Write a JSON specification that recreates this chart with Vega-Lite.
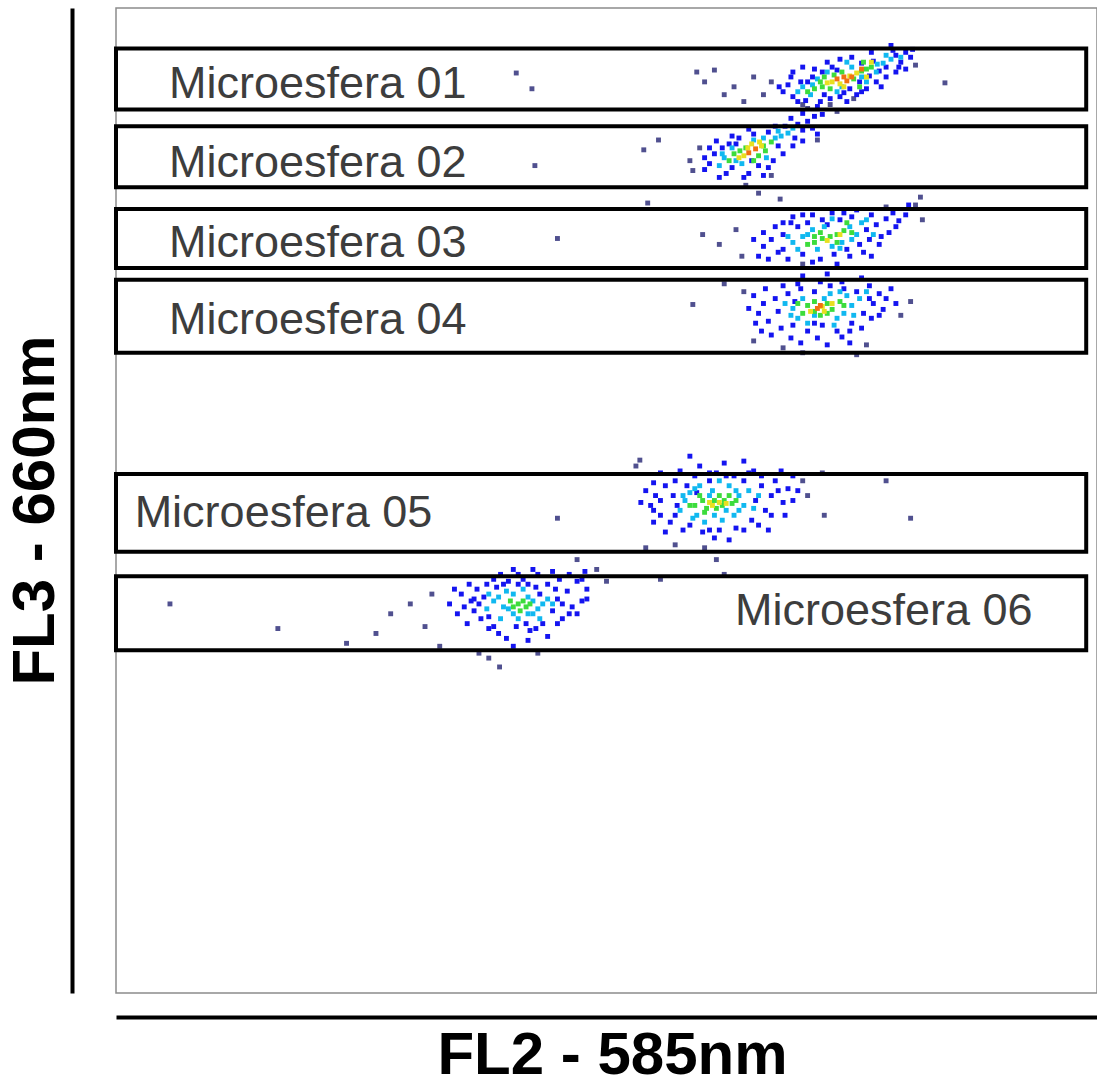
{
"$schema": "https://vega.github.io/schema/vega-lite/v6.json",
"width": 981, "height": 985,
"autosize": "none",
"padding": {"left": 116, "top": 8, "right": 0, "bottom": 87},
"background": "white",
"config": {"view": {"stroke": "#8c8c8c", "strokeWidth": 1.5}},
"datasets": {
"pts": [
{"fl2":408,"fl3":934,"den":0},{"fl2":424,"fl3":918,"den":0},{"fl2":592,"fl3":935,"den":0},{"fl2":600,"fl3":925,"den":0},{"fl2":610,"fl3":937,"den":0},{"fl2":630,"fl3":920,"den":0},{"fl2":650,"fl3":930,"den":0},{"fl2":668,"fl3":925,"den":0},{"fl2":660,"fl3":912,"den":0},{"fl2":640,"fl3":905,"den":0},{"fl2":845,"fl3":924,"den":0},{"fl2":815,"fl3":942,"den":0},{"fl2":752,"fl3":908,"den":0},{"fl2":700,"fl3":902,"den":0},{"fl2":620,"fl3":912,"den":0},
{"fl2":680,"fl3":915,"den":1},{"fl2":685,"fl3":922,"den":1},{"fl2":690,"fl3":910,"den":1},{"fl2":698,"fl3":925,"den":1},{"fl2":703,"fl3":906,"den":1},{"fl2":710,"fl3":930,"den":1},{"fl2":722,"fl3":912,"den":1},{"fl2":735,"fl3":937,"den":1},{"fl2":748,"fl3":918,"den":1},{"fl2":758,"fl3":925,"den":1},{"fl2":768,"fl3":931,"den":1},{"fl2":772,"fl3":946,"den":1},{"fl2":785,"fl3":940,"den":1},{"fl2":795,"fl3":952,"den":1},{"fl2":800,"fl3":945,"den":1},{"fl2":805,"fl3":955,"den":1},{"fl2":810,"fl3":950,"den":1},{"fl2":688,"fl3":930,"den":1},{"fl2":676,"fl3":920,"den":1},{"fl2":760,"fl3":944,"den":1},{"fl2":718,"fl3":905,"den":1},{"fl2":730,"fl3":940,"den":1},{"fl2":742,"fl3":914,"den":1},{"fl2":778,"fl3":936,"den":1},{"fl2":792,"fl3":957,"den":1},{"fl2":798,"fl3":940,"den":1},
{"fl2":690,"fl3":935,"den":1},{"fl2":700,"fl3":940,"den":1},{"fl2":712,"fl3":938,"den":1},{"fl2":725,"fl3":945,"den":1},{"fl2":738,"fl3":948,"den":1},{"fl2":745,"fl3":905,"den":1},{"fl2":755,"fl3":912,"den":1},{"fl2":765,"fl3":918,"den":1},{"fl2":775,"fl3":925,"den":1},{"fl2":785,"fl3":930,"den":1},{"fl2":795,"fl3":935,"den":1},{"fl2":805,"fl3":938,"den":1},{"fl2":812,"fl3":958,"den":1},{"fl2":790,"fl3":962,"den":1},{"fl2":770,"fl3":955,"den":1},{"fl2":750,"fl3":950,"den":1},{"fl2":715,"fl3":900,"den":1},{"fl2":728,"fl3":908,"den":1},{"fl2":738,"fl3":910,"den":1},{"fl2":760,"fl3":915,"den":1},{"fl2":780,"fl3":920,"den":1},{"fl2":695,"fl3":905,"den":1},{"fl2":705,"fl3":925,"den":1},{"fl2":720,"fl3":935,"den":1},
{"fl2":776,"fl3":943,"den":2},{"fl2":700,"fl3":920,"den":2},{"fl2":708,"fl3":912,"den":2},{"fl2":715,"fl3":928,"den":2},{"fl2":740,"fl3":920,"den":2},{"fl2":760,"fl3":930,"den":2},{"fl2":782,"fl3":944,"den":2},{"fl2":790,"fl3":948,"den":2},{"fl2":695,"fl3":915,"den":2},{"fl2":750,"fl3":940,"den":2},
{"fl2":725,"fl3":935,"den":2},{"fl2":735,"fl3":915,"den":2},{"fl2":765,"fl3":925,"den":2},{"fl2":775,"fl3":935,"den":2},{"fl2":745,"fl3":945,"den":2},{"fl2":710,"fl3":922,"den":2},{"fl2":785,"fl3":952,"den":2},{"fl2":800,"fl3":950,"den":2},
{"fl2":720,"fl3":920,"den":3},{"fl2":760,"fl3":936,"den":3},{"fl2":712,"fl3":918,"den":3},{"fl2":718,"fl3":925,"den":3},{"fl2":732,"fl3":932,"den":3},{"fl2":752,"fl3":928,"den":3},{"fl2":765,"fl3":938,"den":3},{"fl2":770,"fl3":940,"den":3},{"fl2":705,"fl3":915,"den":3},{"fl2":728,"fl3":918,"den":3},
{"fl2":740,"fl3":935,"den":3},{"fl2":758,"fl3":920,"den":3},{"fl2":722,"fl3":930,"den":3},{"fl2":762,"fl3":945,"den":3},
{"fl2":730,"fl3":925,"den":4},{"fl2":748,"fl3":931,"den":4},{"fl2":738,"fl3":923,"den":4},{"fl2":725,"fl3":924,"den":4},{"fl2":755,"fl3":934,"den":4},{"fl2":770,"fl3":945,"den":4},{"fl2":765,"fl3":930,"den":4},{"fl2":742,"fl3":920,"den":4},
{"fl2":735,"fl3":928,"den":5},{"fl2":742,"fl3":930,"den":5},{"fl2":745,"fl3":926,"den":5},{"fl2":750,"fl3":930,"den":5},{"fl2":760,"fl3":938,"den":5},

{"fl2":427,"fl3":840,"den":0},{"fl2":538,"fl3":856,"den":0},{"fl2":553,"fl3":866,"den":0},{"fl2":585,"fl3":845,"den":0},{"fl2":595,"fl3":858,"den":0},{"fl2":642,"fl3":820,"den":0},{"fl2":655,"fl3":812,"den":0},{"fl2":668,"fl3":830,"den":0},{"fl2":715,"fl3":866,"den":0},{"fl2":735,"fl3":895,"den":0},{"fl2":705,"fl3":898,"den":0},{"fl2":728,"fl3":902,"den":0},{"fl2":588,"fl3":835,"den":0},{"fl2":542,"fl3":802,"den":0},{"fl2":677,"fl3":806,"den":0},
{"fl2":605,"fl3":842,"den":1},{"fl2":610,"fl3":852,"den":1},{"fl2":600,"fl3":836,"den":1},{"fl2":618,"fl3":858,"den":1},{"fl2":628,"fl3":838,"den":1},{"fl2":648,"fl3":845,"den":1},{"fl2":665,"fl3":874,"den":1},{"fl2":675,"fl3":860,"den":1},{"fl2":695,"fl3":882,"den":1},{"fl2":700,"fl3":876,"den":1},{"fl2":705,"fl3":885,"den":1},{"fl2":712,"fl3":890,"den":1},{"fl2":682,"fl3":880,"den":1},{"fl2":692,"fl3":868,"den":1},{"fl2":632,"fl3":862,"den":1},{"fl2":622,"fl3":832,"den":1},{"fl2":645,"fl3":832,"den":1},{"fl2":655,"fl3":840,"den":1},{"fl2":710,"fl3":878,"den":1},{"fl2":720,"fl3":892,"den":1},{"fl2":600,"fl3":848,"den":1},{"fl2":640,"fl3":828,"den":1},
{"fl2":615,"fl3":828,"den":1},{"fl2":625,"fl3":862,"den":1},{"fl2":635,"fl3":868,"den":1},{"fl2":650,"fl3":872,"den":1},{"fl2":660,"fl3":830,"den":1},{"fl2":670,"fl3":845,"den":1},{"fl2":680,"fl3":852,"den":1},{"fl2":690,"fl3":860,"den":1},{"fl2":700,"fl3":865,"den":1},{"fl2":715,"fl3":872,"den":1},{"fl2":612,"fl3":865,"den":1},{"fl2":628,"fl3":870,"den":1},{"fl2":645,"fl3":877,"den":1},{"fl2":672,"fl3":880,"den":1},{"fl2":688,"fl3":888,"den":1},{"fl2":700,"fl3":893,"den":1},{"fl2":605,"fl3":858,"den":1},{"fl2":665,"fl3":838,"den":1},
{"fl2":620,"fl3":848,"den":2},{"fl2":615,"fl3":840,"den":2},{"fl2":638,"fl3":842,"den":2},{"fl2":678,"fl3":870,"den":2},{"fl2":685,"fl3":873,"den":2},{"fl2":660,"fl3":868,"den":2},{"fl2":690,"fl3":878,"den":2},{"fl2":672,"fl3":868,"den":2},
{"fl2":632,"fl3":845,"den":2},{"fl2":650,"fl3":866,"den":2},{"fl2":663,"fl3":848,"den":2},{"fl2":675,"fl3":875,"den":2},{"fl2":628,"fl3":858,"den":2},{"fl2":618,"fl3":852,"den":2},
{"fl2":630,"fl3":852,"den":3},{"fl2":625,"fl3":845,"den":3},{"fl2":668,"fl3":864,"den":3},{"fl2":655,"fl3":850,"den":3},{"fl2":642,"fl3":858,"den":3},{"fl2":662,"fl3":855,"den":3},{"fl2":636,"fl3":855,"den":3},{"fl2":660,"fl3":860,"den":3},{"fl2":650,"fl3":845,"den":3},
{"fl2":640,"fl3":850,"den":4},{"fl2":658,"fl3":860,"den":4},{"fl2":635,"fl3":848,"den":4},{"fl2":648,"fl3":862,"den":4},{"fl2":644,"fl3":858,"den":4},{"fl2":656,"fl3":864,"den":4},
{"fl2":645,"fl3":853,"den":5},{"fl2":652,"fl3":857,"den":5},

{"fl2":450,"fl3":766,"den":0},{"fl2":598,"fl3":770,"den":0},{"fl2":615,"fl3":760,"den":0},{"fl2":632,"fl3":775,"den":0},{"fl2":638,"fl3":748,"den":0},{"fl2":815,"fl3":800,"den":0},{"fl2":820,"fl3":808,"den":0},{"fl2":822,"fl3":785,"den":0},{"fl2":785,"fl3":798,"den":0},{"fl2":700,"fl3":740,"den":0},
{"fl2":660,"fl3":758,"den":1},{"fl2":668,"fl3":765,"den":1},{"fl2":675,"fl3":752,"den":1},{"fl2":680,"fl3":770,"den":1},{"fl2":685,"fl3":745,"den":1},{"fl2":695,"fl3":778,"den":1},{"fl2":700,"fl3":750,"den":1},{"fl2":705,"fl3":782,"den":1},{"fl2":718,"fl3":745,"den":1},{"fl2":725,"fl3":780,"den":1},{"fl2":732,"fl3":750,"den":1},{"fl2":738,"fl3":785,"den":1},{"fl2":745,"fl3":755,"den":1},{"fl2":750,"fl3":788,"den":1},{"fl2":758,"fl3":760,"den":1},{"fl2":765,"fl3":775,"den":1},{"fl2":770,"fl3":790,"den":1},{"fl2":775,"fl3":780,"den":1},{"fl2":780,"fl3":768,"den":1},{"fl2":785,"fl3":786,"den":1},{"fl2":792,"fl3":792,"den":1},{"fl2":672,"fl3":778,"den":1},{"fl2":688,"fl3":782,"den":1},{"fl2":655,"fl3":748,"den":1},{"fl2":710,"fl3":742,"den":1},{"fl2":742,"fl3":792,"den":1},{"fl2":798,"fl3":784,"den":1},{"fl2":762,"fl3":752,"den":1},{"fl2":650,"fl3":765,"den":1},{"fl2":700,"fl3":728,"den":1},{"fl2":725,"fl3":730,"den":1},{"fl2":760,"fl3":726,"den":1},
{"fl2":690,"fl3":788,"den":1},{"fl2":710,"fl3":790,"den":1},{"fl2":730,"fl3":792,"den":1},{"fl2":755,"fl3":795,"den":1},{"fl2":768,"fl3":765,"den":1},{"fl2":778,"fl3":760,"den":1},{"fl2":788,"fl3":772,"den":1},{"fl2":795,"fl3":778,"den":1},{"fl2":805,"fl3":790,"den":1},{"fl2":665,"fl3":745,"den":1},{"fl2":680,"fl3":755,"den":1},{"fl2":720,"fl3":785,"den":1},{"fl2":735,"fl3":740,"den":1},{"fl2":748,"fl3":748,"den":1},{"fl2":770,"fl3":748,"den":1},{"fl2":660,"fl3":772,"den":1},{"fl2":700,"fl3":790,"den":1},{"fl2":808,"fl3":800,"den":1},{"fl2":680,"fl3":782,"den":1},
{"fl2":700,"fl3":768,"den":2},{"fl2":690,"fl3":762,"den":2},{"fl2":710,"fl3":775,"den":2},{"fl2":748,"fl3":778,"den":2},{"fl2":755,"fl3":770,"den":2},{"fl2":730,"fl3":758,"den":2},{"fl2":715,"fl3":755,"den":2},{"fl2":760,"fl3":782,"den":2},{"fl2":740,"fl3":762,"den":2},{"fl2":695,"fl3":755,"den":2},
{"fl2":705,"fl3":770,"den":2},{"fl2":722,"fl3":778,"den":2},{"fl2":738,"fl3":756,"den":2},{"fl2":750,"fl3":765,"den":2},{"fl2":765,"fl3":785,"den":2},{"fl2":772,"fl3":770,"den":2},{"fl2":685,"fl3":768,"den":2},{"fl2":730,"fl3":786,"den":2},
{"fl2":720,"fl3":766,"den":3},{"fl2":728,"fl3":768,"den":3},{"fl2":712,"fl3":762,"den":3},{"fl2":735,"fl3":770,"den":3},{"fl2":718,"fl3":772,"den":3},{"fl2":705,"fl3":760,"den":3},{"fl2":742,"fl3":774,"den":3},{"fl2":735,"fl3":762,"den":3},{"fl2":750,"fl3":772,"den":3},{"fl2":712,"fl3":768,"den":3},{"fl2":745,"fl3":782,"den":3},
{"fl2":725,"fl3":764,"den":4},{"fl2":738,"fl3":770,"den":4},

{"fl2":588,"fl3":699,"den":0},{"fl2":620,"fl3":720,"den":0},{"fl2":640,"fl3":712,"den":0},{"fl2":650,"fl3":662,"den":0},{"fl2":680,"fl3":655,"den":0},{"fl2":700,"fl3":650,"den":0},{"fl2":755,"fl3":648,"den":0},{"fl2":800,"fl3":688,"den":0},{"fl2":810,"fl3":702,"den":0},{"fl2":765,"fl3":658,"den":0},
{"fl2":645,"fl3":695,"den":1},{"fl2":655,"fl3":690,"den":1},{"fl2":660,"fl3":700,"den":1},{"fl2":665,"fl3":682,"den":1},{"fl2":672,"fl3":705,"den":1},{"fl2":678,"fl3":675,"den":1},{"fl2":685,"fl3":710,"den":1},{"fl2":690,"fl3":678,"den":1},{"fl2":698,"fl3":715,"den":1},{"fl2":705,"fl3":672,"den":1},{"fl2":712,"fl3":712,"den":1},{"fl2":720,"fl3":678,"den":1},{"fl2":728,"fl3":718,"den":1},{"fl2":735,"fl3":672,"den":1},{"fl2":742,"fl3":715,"den":1},{"fl2":750,"fl3":680,"den":1},{"fl2":755,"fl3":712,"den":1},{"fl2":762,"fl3":690,"den":1},{"fl2":768,"fl3":718,"den":1},{"fl2":772,"fl3":700,"den":1},{"fl2":778,"fl3":710,"den":1},{"fl2":782,"fl3":694,"den":1},{"fl2":668,"fl3":668,"den":1},{"fl2":688,"fl3":665,"den":1},{"fl2":715,"fl3":665,"den":1},{"fl2":740,"fl3":666,"den":1},{"fl2":652,"fl3":680,"den":1},{"fl2":760,"fl3":675,"den":1},{"fl2":790,"fl3":715,"den":1},{"fl2":675,"fl3":692,"den":1},
{"fl2":650,"fl3":708,"den":1},{"fl2":662,"fl3":715,"den":1},{"fl2":680,"fl3":718,"den":1},{"fl2":695,"fl3":720,"den":1},{"fl2":718,"fl3":722,"den":1},{"fl2":740,"fl3":722,"den":1},{"fl2":768,"fl3":705,"den":1},{"fl2":785,"fl3":705,"den":1},{"fl2":795,"fl3":700,"den":1},{"fl2":698,"fl3":660,"den":1},{"fl2":725,"fl3":658,"den":1},{"fl2":748,"fl3":660,"den":1},{"fl2":770,"fl3":685,"den":1},{"fl2":658,"fl3":672,"den":1},{"fl2":692,"fl3":702,"den":1},{"fl2":748,"fl3":672,"den":1},{"fl2":712,"fl3":680,"den":1},{"fl2":778,"fl3":688,"den":1},
{"fl2":690,"fl3":695,"den":2},{"fl2":695,"fl3":685,"den":2},{"fl2":745,"fl3":708,"den":2},{"fl2":750,"fl3":698,"den":2},{"fl2":728,"fl3":710,"den":2},{"fl2":700,"fl3":705,"den":2},{"fl2":735,"fl3":685,"den":2},{"fl2":682,"fl3":700,"den":2},{"fl2":758,"fl3":705,"den":2},{"fl2":742,"fl3":690,"den":2},
{"fl2":712,"fl3":688,"den":2},{"fl2":722,"fl3":705,"den":2},{"fl2":705,"fl3":680,"den":2},{"fl2":732,"fl3":678,"den":2},{"fl2":752,"fl3":688,"den":2},{"fl2":765,"fl3":712,"den":2},{"fl2":688,"fl3":688,"den":2},{"fl2":738,"fl3":712,"den":2},
{"fl2":725,"fl3":700,"den":3},{"fl2":700,"fl3":690,"den":3},{"fl2":712,"fl3":702,"den":3},{"fl2":730,"fl3":694,"den":3},{"fl2":718,"fl3":688,"den":3},{"fl2":705,"fl3":698,"den":3},{"fl2":738,"fl3":702,"den":3},{"fl2":725,"fl3":690,"den":3},{"fl2":742,"fl3":698,"den":3},{"fl2":712,"fl3":692,"den":3},{"fl2":695,"fl3":700,"den":3},
{"fl2":720,"fl3":697,"den":4},{"fl2":708,"fl3":692,"den":4},{"fl2":730,"fl3":700,"den":4},{"fl2":722,"fl3":692,"den":4},
{"fl2":715,"fl3":695,"den":5},{"fl2":718,"fl3":698,"den":5},

{"fl2":530,"fl3":535,"den":0},{"fl2":540,"fl3":452,"den":0},{"fl2":570,"fl3":455,"den":0},{"fl2":600,"fl3":452,"den":0},{"fl2":612,"fl3":440,"den":0},{"fl2":700,"fl3":520,"den":0},{"fl2":720,"fl3":528,"den":0},{"fl2":722,"fl3":485,"den":0},{"fl2":785,"fl3":520,"den":0},{"fl2":810,"fl3":482,"den":0},{"fl2":450,"fl3":482,"den":0},{"fl2":555,"fl3":420,"den":0},{"fl2":620,"fl3":425,"den":0},{"fl2":705,"fl3":505,"den":0},{"fl2":534,"fl3":541,"den":0},
{"fl2":545,"fl3":495,"den":1},{"fl2":550,"fl3":505,"den":1},{"fl2":555,"fl3":485,"den":1},{"fl2":560,"fl3":515,"den":1},{"fl2":565,"fl3":478,"den":1},{"fl2":570,"fl3":520,"den":1},{"fl2":578,"fl3":470,"den":1},{"fl2":590,"fl3":525,"den":1},{"fl2":598,"fl3":468,"den":1},{"fl2":605,"fl3":528,"den":1},{"fl2":615,"fl3":470,"den":1},{"fl2":622,"fl3":525,"den":1},{"fl2":632,"fl3":472,"den":1},{"fl2":640,"fl3":520,"den":1},{"fl2":648,"fl3":480,"den":1},{"fl2":652,"fl3":500,"den":1},{"fl2":658,"fl3":515,"den":1},{"fl2":662,"fl3":490,"den":1},{"fl2":668,"fl3":505,"den":1},{"fl2":672,"fl3":520,"den":1},{"fl2":680,"fl3":498,"den":1},{"fl2":685,"fl3":512,"den":1},{"fl2":540,"fl3":510,"den":1},{"fl2":535,"fl3":498,"den":1},{"fl2":560,"fl3":468,"den":1},{"fl2":610,"fl3":462,"den":1},{"fl2":625,"fl3":460,"den":1},{"fl2":650,"fl3":530,"den":1},{"fl2":595,"fl3":535,"den":1},{"fl2":575,"fl3":530,"den":1},{"fl2":690,"fl3":525,"den":1},{"fl2":665,"fl3":470,"den":1},{"fl2":548,"fl3":478,"den":1},{"fl2":620,"fl3":538,"den":1},{"fl2":640,"fl3":540,"den":1},{"fl2":585,"fl3":545,"den":1},
{"fl2":548,"fl3":518,"den":1},{"fl2":555,"fl3":528,"den":1},{"fl2":568,"fl3":505,"den":1},{"fl2":572,"fl3":495,"den":1},{"fl2":582,"fl3":515,"den":1},{"fl2":592,"fl3":508,"den":1},{"fl2":605,"fl3":520,"den":1},{"fl2":612,"fl3":528,"den":1},{"fl2":630,"fl3":525,"den":1},{"fl2":645,"fl3":528,"den":1},{"fl2":658,"fl3":525,"den":1},{"fl2":675,"fl3":510,"den":1},{"fl2":682,"fl3":485,"den":1},{"fl2":690,"fl3":500,"den":1},{"fl2":668,"fl3":485,"den":1},{"fl2":655,"fl3":475,"den":1},{"fl2":640,"fl3":470,"den":1},{"fl2":605,"fl3":470,"den":1},{"fl2":585,"fl3":475,"den":1},{"fl2":570,"fl3":485,"den":1},{"fl2":555,"fl3":500,"den":1},{"fl2":678,"fl3":530,"den":1},{"fl2":695,"fl3":510,"den":1},{"fl2":548,"fl3":490,"den":1},
{"fl2":580,"fl3":500,"den":2},{"fl2":575,"fl3":490,"den":2},{"fl2":585,"fl3":508,"den":2},{"fl2":595,"fl3":515,"den":2},{"fl2":625,"fl3":515,"den":2},{"fl2":635,"fl3":505,"den":2},{"fl2":640,"fl3":495,"den":2},{"fl2":630,"fl3":485,"den":2},{"fl2":618,"fl3":480,"den":2},{"fl2":600,"fl3":478,"den":2},{"fl2":588,"fl3":482,"den":2},{"fl2":645,"fl3":510,"den":2},{"fl2":608,"fl3":510,"den":2},
{"fl2":578,"fl3":505,"den":2},{"fl2":592,"fl3":485,"den":2},{"fl2":610,"fl3":485,"den":2},{"fl2":632,"fl3":510,"den":2},{"fl2":650,"fl3":492,"den":2},{"fl2":655,"fl3":505,"den":2},{"fl2":622,"fl3":490,"den":2},{"fl2":605,"fl3":505,"den":2},{"fl2":590,"fl3":512,"den":2},{"fl2":615,"fl3":520,"den":2},{"fl2":635,"fl3":490,"den":2},
{"fl2":612,"fl3":492,"den":3},{"fl2":598,"fl3":500,"den":3},{"fl2":620,"fl3":500,"den":3},{"fl2":590,"fl3":495,"den":3},{"fl2":615,"fl3":505,"den":3},{"fl2":628,"fl3":497,"den":3},{"fl2":600,"fl3":488,"den":3},
{"fl2":602,"fl3":492,"den":3},{"fl2":618,"fl3":495,"den":3},{"fl2":595,"fl3":505,"den":3},{"fl2":625,"fl3":505,"den":3},{"fl2":610,"fl3":500,"den":3},{"fl2":632,"fl3":500,"den":3},{"fl2":585,"fl3":495,"den":3},
{"fl2":605,"fl3":498,"den":4},{"fl2":615,"fl3":498,"den":4},{"fl2":608,"fl3":495,"den":4},{"fl2":622,"fl3":497,"den":4},

{"fl2":55,"fl3":395,"den":0},{"fl2":165,"fl3":370,"den":0},{"fl2":235,"fl3":355,"den":0},{"fl2":265,"fl3":365,"den":0},{"fl2":280,"fl3":385,"den":0},{"fl2":300,"fl3":395,"den":0},{"fl2":315,"fl3":372,"den":0},{"fl2":322,"fl3":405,"den":0},{"fl2":391,"fl3":331,"den":0},{"fl2":380,"fl3":340,"den":0},{"fl2":490,"fl3":430,"den":0},{"fl2":470,"fl3":440,"den":0},{"fl2":500,"fl3":418,"den":0},{"fl2":430,"fl3":345,"den":0},{"fl2":370,"fl3":345,"den":0},{"fl2":330,"fl3":352,"den":0},
{"fl2":340,"fl3":395,"den":1},{"fl2":348,"fl3":385,"den":1},{"fl2":352,"fl3":405,"den":1},{"fl2":358,"fl3":375,"den":1},{"fl2":362,"fl3":398,"den":1},{"fl2":368,"fl3":410,"den":1},{"fl2":372,"fl3":380,"den":1},{"fl2":375,"fl3":402,"den":1},{"fl2":380,"fl3":370,"den":1},{"fl2":388,"fl3":412,"den":1},{"fl2":390,"fl3":365,"den":1},{"fl2":400,"fl3":418,"den":1},{"fl2":408,"fl3":372,"den":1},{"fl2":415,"fl3":420,"den":1},{"fl2":422,"fl3":368,"den":1},{"fl2":428,"fl3":412,"den":1},{"fl2":435,"fl3":375,"den":1},{"fl2":440,"fl3":415,"den":1},{"fl2":445,"fl3":388,"den":1},{"fl2":450,"fl3":400,"den":1},{"fl2":455,"fl3":380,"den":1},{"fl2":460,"fl3":408,"den":1},{"fl2":465,"fl3":392,"den":1},{"fl2":470,"fl3":385,"den":1},{"fl2":475,"fl3":398,"den":1},{"fl2":398,"fl3":360,"den":1},{"fl2":420,"fl3":358,"den":1},{"fl2":440,"fl3":362,"den":1},{"fl2":365,"fl3":388,"den":1},{"fl2":385,"fl3":420,"den":1},{"fl2":410,"fl3":425,"den":1},{"fl2":430,"fl3":425,"den":1},{"fl2":452,"fl3":420,"den":1},{"fl2":470,"fl3":418,"den":1},{"fl2":360,"fl3":415,"den":1},{"fl2":405,"fl3":352,"den":1},{"fl2":345,"fl3":410,"den":1},{"fl2":480,"fl3":410,"den":1},
{"fl2":355,"fl3":392,"den":1},{"fl2":365,"fl3":400,"den":1},{"fl2":378,"fl3":415,"den":1},{"fl2":385,"fl3":372,"den":1},{"fl2":395,"fl3":415,"den":1},{"fl2":410,"fl3":415,"den":1},{"fl2":420,"fl3":415,"den":1},{"fl2":432,"fl3":405,"den":1},{"fl2":448,"fl3":410,"den":1},{"fl2":455,"fl3":395,"den":1},{"fl2":462,"fl3":385,"den":1},{"fl2":418,"fl3":375,"den":1},{"fl2":428,"fl3":370,"den":1},{"fl2":380,"fl3":382,"den":1},{"fl2":370,"fl3":395,"den":1},{"fl2":450,"fl3":375,"den":1},{"fl2":475,"fl3":420,"den":1},{"fl2":480,"fl3":400,"den":1},{"fl2":392,"fl3":425,"den":1},{"fl2":405,"fl3":430,"den":1},{"fl2":425,"fl3":430,"den":1},{"fl2":445,"fl3":428,"den":1},{"fl2":462,"fl3":425,"den":1},{"fl2":478,"fl3":428,"den":1},
{"fl2":385,"fl3":398,"den":2},{"fl2":430,"fl3":390,"den":2},{"fl2":440,"fl3":400,"den":2},{"fl2":398,"fl3":408,"den":2},{"fl2":415,"fl3":410,"den":2},{"fl2":378,"fl3":390,"den":2},{"fl2":432,"fl3":380,"den":2},{"fl2":392,"fl3":380,"den":2},{"fl2":425,"fl3":398,"den":2},{"fl2":395,"fl3":392,"den":2},{"fl2":420,"fl3":402,"den":2},{"fl2":405,"fl3":385,"den":2},
{"fl2":400,"fl3":390,"den":2},{"fl2":410,"fl3":380,"den":2},{"fl2":425,"fl3":385,"den":2},{"fl2":435,"fl3":395,"den":2},{"fl2":390,"fl3":402,"den":2},{"fl2":380,"fl3":405,"den":2},{"fl2":405,"fl3":405,"den":2},{"fl2":445,"fl3":395,"den":2},{"fl2":420,"fl3":385,"den":2},
{"fl2":410,"fl3":395,"den":3},{"fl2":418,"fl3":392,"den":3},{"fl2":402,"fl3":398,"den":3},{"fl2":412,"fl3":388,"den":3},{"fl2":415,"fl3":398,"den":3},{"fl2":405,"fl3":392,"den":3},{"fl2":422,"fl3":395,"den":3}
],
"gates": [
{"gate":"Microesfera 01","x0":0,"x1":989,"y0":897,"y1":959},
{"gate":"Microesfera 02","x0":0,"x1":989,"y0":818,"y1":880},
{"gate":"Microesfera 03","x0":0,"x1":989,"y0":736,"y1":796},
{"gate":"Microesfera 04","x0":0,"x1":989,"y0":650,"y1":724},
{"gate":"Microesfera 05","x0":0,"x1":989,"y0":448,"y1":527},
{"gate":"Microesfera 06","x0":0,"x1":989,"y0":348,"y1":423}
],
"labels": [
{"gate":"Microesfera 01","lx":54,"ly":909},
{"gate":"Microesfera 02","lx":54,"ly":828},
{"gate":"Microesfera 03","lx":54,"ly":747},
{"gate":"Microesfera 04","lx":54,"ly":669},
{"gate":"Microesfera 05","lx":19,"ly":473},
{"gate":"Microesfera 06","lx":631,"ly":374}
]
},
"layer": [
{
"data": {"name": "pts"},
"mark": {"type": "square", "size": 24, "opacity": 1, "strokeWidth": 0},
"encoding": {
"x": {"field": "fl2", "type": "quantitative", "scale": {"domain": [0, 1000], "nice": false, "zero": false},
  "axis": {"title": "FL2 - 585nm", "orient": "bottom", "offset": 24, "domainColor": "black", "domainWidth": 4, "ticks": false, "labels": false, "grid": false,
   "titleFont": "Liberation Sans", "titleFontSize": 60, "titleFontWeight": "bold", "titleColor": "black", "titleBaseline": "alphabetic", "titlePadding": 56, "titleX": 496, "titleAlign": "center"}},
"y": {"field": "fl3", "type": "quantitative", "scale": {"domain": [0, 1000], "nice": false, "zero": false},
  "axis": {"title": "FL3 - 660nm", "orient": "left", "offset": 44, "domainColor": "black", "domainWidth": 4, "ticks": false, "labels": false, "grid": false,
   "titleFont": "Liberation Sans", "titleFontSize": 60, "titleFontWeight": "bold", "titleColor": "black", "titleBaseline": "alphabetic", "titlePadding": 19, "titleY": 502, "titleAlign": "center", "titleAngle": -90}},
"color": {"field": "den", "type": "ordinal", "legend": null,
  "scale": {"domain": [0, 1, 2, 3, 4, 5], "range": ["#50508f", "#1414f0", "#10b8f0", "#3cdc3c", "#e8e020", "#f07010"]}},
"order": {"field": "den", "type": "quantitative"}
}
},
{
"data": {"name": "gates"},
"mark": {"type": "rect", "fill": null, "fillOpacity": 0, "stroke": "black", "strokeWidth": 4},
"encoding": {
"x": {"field": "x0", "type": "quantitative"},
"x2": {"field": "x1"},
"y": {"field": "y0", "type": "quantitative"},
"y2": {"field": "y1"}
}
},
{
"data": {"name": "labels"},
"mark": {"type": "text", "align": "left", "baseline": "alphabetic", "font": "Liberation Sans", "fontSize": 45, "color": "#3d3d3d"},
"encoding": {
"x": {"field": "lx", "type": "quantitative"},
"y": {"field": "ly", "type": "quantitative"},
"text": {"field": "gate"}
}
}
]
}
